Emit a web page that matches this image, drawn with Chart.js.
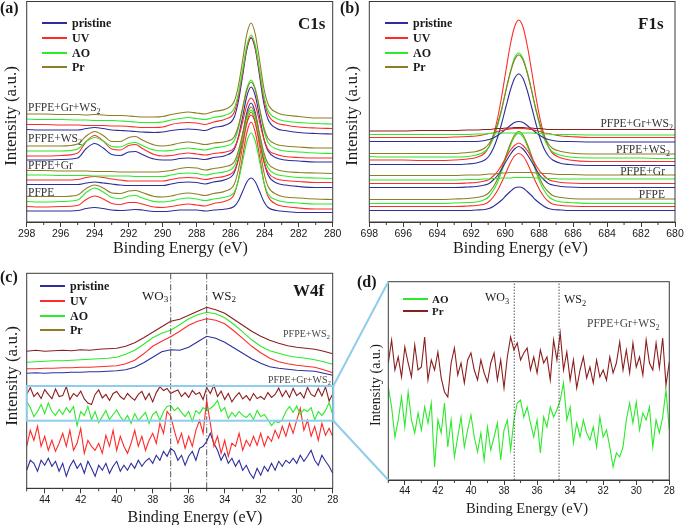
<!DOCTYPE html>
<html>
<head>
<meta charset="utf-8">
<script src="https://cdn.jsdelivr.net/npm/chart.js@4.4.1/dist/chart.umd.min.js"></script>
<style>
  body { margin: 0; background: #fff; }
  #page { position: relative; width: 685px; height: 525px; overflow: hidden;
          font-family: "Liberation Serif", "Times New Roman", serif; color: #1a1a1a; }
  canvas { position: absolute; left: 0; top: 0; }
  .t { position: absolute; white-space: nowrap; line-height: 1; }
  .t sub { font-size: 0.7em; vertical-align: -0.3em; line-height: 0; }
</style>
</head>
<body>
<div id="page">
  <canvas id="c1sChart" width="685" height="525"></canvas>
  <canvas id="f1sChart" width="685" height="525"></canvas>
  <canvas id="w4fChart" width="685" height="525"></canvas>
  <canvas id="zoomChart" width="685" height="525"></canvas>
  <svg width="685" height="525" style="position:absolute;left:0;top:0">
    <rect x="26.7" y="386" width="306.6" height="34.7" fill="none" stroke="#8fcdea" stroke-width="2"/>
    <line x1="333.3" y1="386" x2="388.3" y2="281.7" stroke="#8fcdea" stroke-width="2"/>
    <line x1="333.3" y1="420.7" x2="388.3" y2="480" stroke="#8fcdea" stroke-width="2"/>
  </svg>
</div>
<script>
// ---- C1s (panel a) ----
const c1sEnergy = [298, 297, 296, 295, 294.5, 294, 293.5, 293, 292.5, 292, 291.6, 291.2, 290.5, 290, 289.5, 289, 288.5, 288, 287.5, 287, 286.3, 285.8, 285.55, 285.3, 285.05, 284.8, 284.55, 284.3, 284.05, 283.8, 283.3, 282.8, 282, 281, 280];
const c1sTicks = [298, 296, 294, 292, 290, 288, 286, 284, 282, 280];

const c1sGrWs2Pr = [108, 108, 107.5, 107.5, 107, 107.5, 107, 106.5, 106.5, 106, 105.5, 105, 105, 105.5, 107.5, 109, 110, 109, 108, 110.5, 113, 120.5, 136, 161.5, 188, 199, 187.5, 161.5, 134, 118, 109.5, 107, 105.5, 104, 104];
const c1sGrWs2Ao = [103, 102.5, 102.5, 102, 102, 101.5, 101.5, 101.5, 101, 100.5, 100, 99.5, 99.5, 100, 102, 103.5, 104.5, 103.5, 102.5, 104.5, 107, 113.5, 128.5, 152, 176.5, 187, 176.5, 152, 126.5, 111.5, 103.5, 101, 99.5, 98.5, 98];
const c1sGrWs2Uv = [97.5, 97.5, 97, 97, 96.5, 96.5, 96.5, 96, 96, 95.5, 95, 94.5, 94.5, 95, 97.5, 99, 99.5, 99, 97.5, 100, 103, 109.5, 125, 149, 174, 185, 174, 149, 123, 107.5, 99, 97, 95, 94, 93.5];
const c1sGrWs2Pristine = [92.5, 92, 92, 92, 93.5, 94.5, 93.5, 92, 91.5, 91, 90.5, 90, 89.5, 90, 91.5, 92.5, 93, 92.5, 91.5, 94.5, 97, 104.5, 120.5, 146, 172.5, 184, 172.5, 146, 118.5, 102.5, 93.5, 91.5, 89.5, 88.5, 88];

const c1sWs2Pr = [76, 76, 76, 78, 86, 90.5, 86.5, 80.5, 80.5, 84.5, 85.5, 82, 77, 76, 77, 79, 80, 79, 77.5, 79, 80.5, 85, 96, 114, 132, 140, 132, 113.5, 94.5, 83.5, 77.5, 76, 75, 74, 74];
const c1sWs2Ao = [71, 71, 71, 73, 80.5, 84.5, 81, 75.5, 75, 78.5, 79.5, 76.5, 72, 71, 71.5, 73, 74, 73, 72, 74, 76, 81, 93.5, 113, 133.5, 142, 133, 113, 92, 79.5, 73, 71, 70, 69, 68.5];
const c1sWs2Uv = [66, 66, 66.5, 69, 80.5, 86.5, 81, 73, 72, 76.5, 77.5, 73.5, 67.5, 66, 66.5, 68, 69, 68, 67, 68.5, 70, 74, 84, 100, 117, 124, 117, 100, 83, 72.5, 67.5, 65.5, 64.5, 64, 64];
const c1sWs2Pristine = [62, 62, 62.5, 64, 73.5, 78.5, 74, 67.5, 66.5, 70, 70.5, 67.5, 63, 62, 62, 63.5, 64, 63.5, 62.5, 64.5, 66.5, 72.5, 85, 105, 126, 135, 126, 105, 83.5, 71, 64, 62, 61, 60, 60];

const c1sGrPr = [51.5, 51.5, 51, 51, 51, 50.5, 50.5, 50.5, 50, 50, 50, 50, 50, 50.5, 51.5, 53.5, 54.5, 54, 52, 53.5, 55.5, 60, 71, 88.5, 107, 115, 107, 88.5, 69.5, 58.5, 52.5, 50.5, 49.5, 49, 48.5];
const c1sGrAo = [47, 47, 46.5, 46.5, 46.5, 46, 46, 46, 46, 46, 45.5, 45.5, 45.5, 45.5, 47, 48.5, 49, 48.5, 47, 48.5, 50.5, 55.5, 67, 85, 104, 112, 104, 85, 65.5, 54, 47.5, 46, 44.5, 44, 43.5];
const c1sGrUv = [42, 42, 42, 42.5, 44.5, 45.5, 44.5, 43, 42, 41, 41, 41, 41, 41, 42.5, 44, 44.5, 44, 42.5, 44, 46, 51, 62, 80, 99, 107, 99, 80, 60.5, 49.5, 43, 41.5, 40.5, 39.5, 39.5];
const c1sGrPristine = [37.5, 37.5, 37.5, 37.5, 39, 40, 39, 38, 37, 36.5, 36.5, 36.5, 36.5, 36.5, 38, 39.5, 40, 39.5, 38, 40, 42.5, 49, 63, 86, 109.5, 119, 109, 85.5, 61, 47, 39, 37, 35.5, 34.5, 34.5];

const c1sPfpePr = [25.5, 25.5, 25.5, 27, 33.5, 37, 34, 29, 28.5, 31, 31.5, 29.5, 25.5, 25, 26, 28, 29, 28, 26.5, 28.5, 31, 37.5, 52, 75.5, 99.5, 110, 99.5, 75.5, 50, 35.5, 27.5, 25, 24, 23, 22.5];
const c1sPfpeAo = [20.5, 20, 20.5, 22, 29.5, 34, 30, 24.5, 23.5, 26, 26.5, 24, 20.5, 20, 21, 23, 24, 23, 21.5, 23, 25, 29.5, 41.5, 60.5, 80.5, 89, 80.5, 60.5, 40, 28, 22, 20, 19, 18, 18];
const c1sPfpeUv = [15.5, 15, 15.5, 16.5, 22.5, 26, 23, 18.5, 17.5, 19.5, 19.5, 18, 15, 14.5, 15.5, 17, 18, 17, 16, 18.5, 21, 27.5, 42, 65.5, 89.5, 100, 89.5, 65.5, 40, 25.5, 17.5, 15.5, 14, 13, 13];
const c1sPfpePristine = [11, 11, 11, 11.5, 13.5, 14.5, 13.5, 12, 11.5, 12, 12.5, 12, 10.5, 10.5, 11, 12, 12, 12, 11, 12, 13, 15.5, 21, 30.5, 40, 44, 40, 30.5, 20.5, 14.5, 11.5, 10.5, 9.5, 9.5, 9.5];

// ---- F1s (panel b) ----
const f1sEnergy = [698, 697, 696, 695, 694, 693, 692.2, 691.7, 691.2, 690.95, 690.7, 690.45, 690.2, 689.95, 689.7, 689.45, 689.2, 688.95, 688.7, 688.45, 688.2, 687.95, 687.7, 687.45, 687.2, 686.7, 686.2, 685, 684, 683, 682, 681, 680];
const f1sTicks = [698, 696, 694, 692, 690, 688, 686, 684, 682, 680];

const f1sGrWs2Pr = [91, 91, 91, 91.5, 91.5, 91.5, 92, 92, 92.5, 92.5, 93, 93.5, 93.5, 94, 94, 94.5, 94.5, 94.5, 94, 94, 93.5, 93.5, 93, 92.5, 92.5, 92.5, 92.5, 92.5, 92.5, 92.5, 92.5, 92.5, 92.5];
const f1sGrWs2Ao = [87.5, 87.5, 87.5, 87.5, 87.5, 87.5, 87.5, 88, 88, 88.5, 88.5, 89, 89, 89, 89, 89, 89, 89, 89, 89, 88.5, 88.5, 88, 88, 87.5, 87.5, 87.5, 87, 87, 87, 87, 87, 87];
const f1sGrWs2Uv = [84.5, 84.5, 84.5, 84.5, 84.5, 85, 85.5, 86, 87.5, 88.5, 89, 90.5, 91.5, 92.5, 93, 93.5, 93.5, 93.5, 93, 92.5, 91.5, 90.5, 89, 88.5, 87.5, 86, 85.5, 84.5, 84.5, 84.5, 84.5, 84.5, 84.5];
const f1sGrWs2Pristine = [80.5, 80.5, 80.5, 80.5, 80.5, 80.5, 80.5, 80.5, 81.5, 82.5, 84, 86.5, 89.5, 93, 96.5, 99.5, 100.5, 99.5, 96.5, 93, 89.5, 86.5, 84, 82.5, 81.5, 80.5, 80.5, 80, 80, 80, 80, 80, 80];

const f1sWs2Pr = [68.5, 68.5, 68.5, 68.5, 68.5, 68.5, 69.5, 70.5, 74, 78.5, 86, 98, 113.5, 132, 149, 162, 167, 162, 149, 132, 113.5, 98, 86, 78, 73.5, 70.5, 69, 68, 68, 68, 68, 68, 68];
const f1sWs2Ao = [65.5, 65, 65, 65, 65, 65, 65.5, 67, 70.5, 75, 83.5, 96, 112.5, 132, 150, 164, 169, 163.5, 150, 132, 112.5, 95.5, 83, 75, 70, 66.5, 65, 64, 64, 64, 64, 63.5, 63.5];
const f1sWs2Uv = [62, 62, 62, 61.5, 61.5, 62, 63, 64.5, 69, 75.5, 86.5, 103.5, 126, 152, 177, 195, 202, 195, 176.5, 152, 126, 103.5, 86.5, 75, 68.5, 64, 62, 60.5, 60.5, 60.5, 60.5, 60.5, 60.5];
const f1sWs2Pristine = [57.5, 57.5, 57.5, 57.5, 57.5, 57.5, 58, 59, 62, 66, 73.5, 84.5, 99, 115.5, 131.5, 143.5, 148, 143.5, 131.5, 115.5, 99, 84, 73, 66, 62, 58.5, 57.5, 56.5, 56.5, 56.5, 56.5, 56.5, 56.5];

const f1sGrPr = [46.5, 46.5, 46.5, 46.5, 46.5, 46.5, 47, 47, 47.5, 48, 48, 48.5, 49, 49, 49.5, 49.5, 49.5, 49.5, 49.5, 49.5, 49, 49, 48.5, 48.5, 48, 47.5, 47.5, 47, 47, 47, 47, 47, 47];
const f1sGrAo = [42, 42, 42, 42, 42, 42, 42.5, 42.5, 43, 43, 43.5, 43.5, 44, 44, 44, 44.5, 44.5, 44.5, 44.5, 44.5, 44, 44, 44, 43.5, 43.5, 43, 43, 43, 43, 43, 43, 43, 43];
const f1sGrUv = [38.5, 38.5, 38.5, 38.5, 38.5, 38.5, 39, 39.5, 41, 42.5, 46, 50.5, 57, 64.5, 71.5, 76.5, 79, 76.5, 71.5, 64.5, 57, 50.5, 46, 42.5, 41, 39.5, 39, 38.5, 38.5, 38.5, 38.5, 38.5, 38.5];
const f1sGrPristine = [34.5, 34.5, 34.5, 34.5, 34.5, 34.5, 35, 35.5, 37, 38.5, 42, 46.5, 53, 60.5, 67.5, 73, 75.5, 73, 67.5, 60.5, 53, 46.5, 42, 38.5, 37, 35.5, 35, 34.5, 34.5, 34.5, 34.5, 34.5, 34.5];

const f1sPfpePr = [22.5, 22.5, 22.5, 22.5, 22.5, 23, 23.5, 24.5, 26.5, 29.5, 35, 43, 54, 66.5, 78, 87, 90.5, 87, 78, 66.5, 54, 43, 35, 30, 26.5, 24.5, 23.5, 23, 23, 23, 23, 23, 23];
const f1sPfpeAo = [18.5, 18.5, 18.5, 18.5, 18.5, 19, 19.5, 20, 22.5, 25.5, 31.5, 39.5, 51, 64, 76, 85, 88.5, 85, 76, 64, 51, 39.5, 31.5, 25.5, 22.5, 20, 19.5, 18.5, 18.5, 18.5, 18.5, 18.5, 18.5];
const f1sPfpeUv = [15.5, 15.5, 15.5, 15.5, 15.5, 15.5, 16, 16.5, 18, 20.5, 25, 31.5, 40, 49.5, 59, 66, 68.5, 66, 59, 49.5, 40, 31.5, 25, 20.5, 18, 16.5, 16, 15.5, 15.5, 15.5, 15.5, 15.5, 15.5];
const f1sPfpePristine = [11.5, 11.5, 11.5, 11.5, 11.5, 11.5, 11.5, 12, 12.5, 13.5, 15.5, 18.5, 22, 26.5, 30.5, 34, 35, 34, 30.5, 26.5, 22, 18.5, 15.5, 13.5, 12.5, 12, 11.5, 11.5, 11.5, 11.5, 11.5, 11.5, 11.5];

// ---- W4f (panels c and d) ----
const w4fEnergy = [45, 44.5, 44, 43.5, 43, 42.5, 42, 41.5, 41, 40.5, 40, 39.5, 39, 38.5, 38, 37.5, 37, 36.5, 36, 35.5, 35, 34.5, 34, 33.5, 33, 32.5, 32, 31.5, 31, 30.5, 30, 29.5, 29, 28.5, 28];
const w4fTicks = [44, 42, 40, 38, 36, 34, 32, 30, 28];
const w4fMarkerEnergy = [37.0, 35.0];
const zoomMarkerEnergy = [37.38, 34.67];

const w4fWs2Pr = [137, 138, 137, 137.5, 138, 137.5, 138.5, 138, 139, 139.5, 140, 142, 145.5, 150.5, 156, 161.5, 167, 169, 173, 177, 181, 178.5, 175, 169, 163, 157, 152, 148, 145, 142.5, 141, 140, 139, 137, 134.5];
const w4fWs2Ao = [126, 126.5, 127, 127.5, 127.5, 128, 128.5, 129, 129.5, 130, 131, 134, 138, 144, 150.5, 155, 158, 163.5, 169.5, 173.5, 176, 174.5, 170.5, 164, 156.5, 148.5, 142, 137.5, 135, 132.5, 131, 130, 128.5, 126.5, 124];
const w4fWs2Uv = [119.5, 119.5, 120, 120, 120.5, 120.5, 121, 121, 121.5, 122, 122.5, 124.5, 128, 134.5, 142, 147, 151.5, 157, 163, 167, 169.5, 168, 164.5, 157.5, 150, 142, 135.5, 130, 126.5, 124.5, 123, 122, 121, 118.5, 115.5];
const w4fWs2Pristine = [115, 115.5, 115, 115.5, 115.5, 116, 116, 116.5, 116.5, 117, 117.5, 118.5, 121, 125.5, 131, 136.5, 138.5, 138, 141, 146.5, 152, 150, 146, 140.5, 135, 129.5, 125, 121.5, 120, 119, 118, 117.5, 117, 115, 113];

const noisyEnergy = [45, 44.8, 44.6, 44.4, 44.2, 44, 43.8, 43.6, 43.4, 43.2, 43, 42.8, 42.6, 42.4, 42.2, 42, 41.8, 41.6, 41.4, 41.2, 41, 40.8, 40.6, 40.4, 40.2, 40, 39.8, 39.6, 39.4, 39.2, 39, 38.8, 38.6, 38.4, 38.2, 38, 37.8, 37.6, 37.4, 37.2, 37, 36.8, 36.6, 36.4, 36.2, 36, 35.8, 35.6, 35.4, 35.2, 35, 34.8, 34.6, 34.4, 34.2, 34, 33.8, 33.6, 33.4, 33.2, 33, 32.8, 32.6, 32.4, 32.2, 32, 31.8, 31.6, 31.4, 31.2, 31, 30.8, 30.6, 30.4, 30.2, 30, 29.8, 29.6, 29.4, 29.2, 29, 28.8, 28.6, 28.4, 28.2, 28];
const w4fGrWs2Pr = [117, 140, 110, 123, 103, 133, 117, 103, 135, 110, 113, 143, 100, 120, 110, 128, 102, 88, 83, 117, 132, 105, 117, 97, 120, 127, 110, 100, 120, 107, 98, 117, 127, 100, 120, 92, 123, 143, 130, 137, 120, 127, 132, 110, 123, 107, 130, 117, 123, 100, 140, 120, 147, 110, 128, 100, 120, 92, 110, 123, 102, 113, 97, 120, 103, 110, 100, 123, 107, 117, 138, 110, 130, 107, 137, 113, 123, 105, 140, 117, 110, 137, 112, 142, 95, 118];
const w4fGrWs2Ao = [93, 73, 43, 60, 83, 53, 88, 60, 47, 67, 50, 73, 57, 77, 13, 60, 47, 77, 33, 60, 23, 43, 63, 33, 50, 65, 43, 28, 47, 20, 53, 30, 43, 57, 20, 50, 60, 30, 60, 77, 80, 63, 73, 57, 43, 60, 27, 63, 53, 73, 63, 70, 80, 97, 60, 73, 37, 57, 43, 60, 47, 40, 53, 33, 63, 43, 50, 33, 13, 27, 23, 33, 60, 77, 57, 78, 50, 67, 60, 73, 33, 60, 47, 63, 90, 50];
const w4fGrWs2Uv = [42, 58, 48, 62, 42, 52, 38, 48, 37, 45, 55, 42, 58, 38, 45, 60, 35, 48, 42, 38, 45, 35, 53, 42, 58, 38, 52, 42, 35, 45, 58, 42, 52, 38, 48, 55, 45, 65, 55, 77, 72, 58, 45, 55, 40, 52, 42, 58, 68, 55, 88, 65, 42, 52, 35, 48, 32, 45, 42, 55, 38, 48, 42, 52, 43, 55, 42, 52, 47, 58, 50, 62, 52, 65, 55, 68, 80, 58, 68, 52, 62, 48, 65, 53, 60, 52];
const w4fGrWs2Pristine = [18, 28, 25, 17, 28, 23, 30, 22, 27, 17, 25, 12, 22, 28, 20, 25, 15, 27, 20, 12, 23, 18, 25, 15, 22, 27, 17, 23, 18, 25, 20, 28, 22, 27, 30, 25, 33, 28, 37, 32, 40, 37, 28, 33, 23, 32, 37, 28, 40, 42, 47, 55, 45, 38, 28, 35, 25, 30, 22, 28, 18, 23, 15, 10, 20, 13, 22, 17, 25, 18, 27, 22, 28, 25, 30, 25, 33, 27, 32, 38, 28, 23, 33, 27, 22, 15];

const seriesNames = ['pristine', 'UV', 'AO', 'Pr'];
const BLUE = '#2d2d9c', RED = '#ff2b2b', GREEN = '#2aea2a', OLIVE = '#8f7d24', MAROON = '#8b1e1e';

const PAGE_W = 685, PAGE_H = 525, AXIS_H = 20;
const page = document.getElementById('page');

const framePlugin = {
  id: 'frame',
  afterDraw(chart, args, opts) {
    const { ctx, chartArea: a } = chart;
    const x = chart.scales.x;
    ctx.save();
    ctx.strokeStyle = '#3a3a3a';
    ctx.lineWidth = 1;
    ctx.strokeRect(a.left, a.top, a.right - a.left, a.bottom - a.top);
    for (let v = Math.ceil(x.min); v <= x.max; v += 1) {
      if (opts.major.includes(v)) continue;
      const px = x.getPixelForValue(v);
      ctx.beginPath();
      ctx.moveTo(px, a.bottom);
      ctx.lineTo(px, a.bottom + opts.minorLen);
      ctx.stroke();
    }
    ctx.restore();
  }
};

function line(xs, ys, color, extra) {
  return Object.assign({
    data: xs.map((x, i) => ({ x: x, y: ys[i] })),
    borderColor: color,
    borderWidth: 1.1,
    pointRadius: 0,
    fill: false,
    tension: 0
  }, extra || {});
}

function marker(x, top, dash) {
  return {
    data: [{ x: x, y: 0 }, { x: x, y: top }],
    borderColor: '#555',
    borderWidth: 1,
    borderDash: dash,
    pointRadius: 0,
    fill: false
  };
}

function drawPanel(id, box, xMin, xMax, ticks, yMax, datasets, tickSize, tickPad, extraScales) {
  new Chart(document.getElementById(id), {
    type: 'line',
    data: { datasets: datasets },
    options: {
      responsive: false,
      animation: false,
      events: [],
      layout: {
        padding: { left: box.left, top: box.top, right: PAGE_W - box.right, bottom: PAGE_H - box.bottom - AXIS_H }
      },
      scales: Object.assign({
        x: {
          type: 'linear',
          reverse: true,
          min: xMin,
          max: xMax,
          afterBuildTicks: (s) => { s.ticks = ticks.map((v) => ({ value: v })); },
          afterFit: (s) => { s.height = AXIS_H; },
          grid: { drawOnChartArea: false, drawTicks: true, tickLength: 5, tickColor: '#3a3a3a', tickWidth: 1 },
          border: { display: true, color: '#3a3a3a', width: 1 },
          ticks: {
            color: '#1a1a1a',
            font: { family: 'Liberation Sans, Arial, sans-serif', size: tickSize },
            padding: tickPad,
            maxRotation: 0,
            autoSkip: false,
            callback: (v) => String(v)
          }
        },
        y: { display: false, min: 0, max: yMax }
      }, extraScales || {}),
      plugins: {
        legend: { display: false },
        tooltip: { enabled: false },
        frame: { major: ticks, minorLen: 3 }
      }
    },
    plugins: [framePlugin]
  });
}

const smooth = { cubicInterpolationMode: 'monotone' };

// panel (a)
drawPanel('c1sChart', { left: 26.7, top: 1.5, right: 332.7, bottom: 222 }, 280, 298, c1sTicks, 220.5, [
  line(c1sEnergy, c1sGrWs2Pr, OLIVE, smooth), line(c1sEnergy, c1sGrWs2Ao, GREEN, smooth),
  line(c1sEnergy, c1sGrWs2Uv, RED, smooth), line(c1sEnergy, c1sGrWs2Pristine, BLUE, smooth),
  line(c1sEnergy, c1sWs2Pr, OLIVE, smooth), line(c1sEnergy, c1sWs2Ao, GREEN, smooth),
  line(c1sEnergy, c1sWs2Uv, RED, smooth), line(c1sEnergy, c1sWs2Pristine, BLUE, smooth),
  line(c1sEnergy, c1sGrPr, OLIVE, smooth), line(c1sEnergy, c1sGrAo, GREEN, smooth),
  line(c1sEnergy, c1sGrUv, RED, smooth), line(c1sEnergy, c1sGrPristine, BLUE, smooth),
  line(c1sEnergy, c1sPfpePr, OLIVE, smooth), line(c1sEnergy, c1sPfpeAo, GREEN, smooth),
  line(c1sEnergy, c1sPfpeUv, RED, smooth), line(c1sEnergy, c1sPfpePristine, BLUE, smooth)
], 10.5, 1);

// panel (b)
drawPanel('f1sChart', { left: 369.3, top: 1.5, right: 675, bottom: 222 }, 680, 698, f1sTicks, 220.5, [
  line(f1sEnergy, f1sGrWs2Pr, MAROON, smooth), line(f1sEnergy, f1sGrWs2Ao, GREEN, smooth),
  line(f1sEnergy, f1sGrWs2Uv, RED, smooth), line(f1sEnergy, f1sGrWs2Pristine, BLUE, smooth),
  line(f1sEnergy, f1sWs2Pr, OLIVE, smooth), line(f1sEnergy, f1sWs2Ao, GREEN, smooth),
  line(f1sEnergy, f1sWs2Uv, RED, smooth), line(f1sEnergy, f1sWs2Pristine, BLUE, smooth),
  line(f1sEnergy, f1sGrPr, OLIVE, smooth), line(f1sEnergy, f1sGrAo, GREEN, smooth),
  line(f1sEnergy, f1sGrUv, RED, smooth), line(f1sEnergy, f1sGrPristine, BLUE, smooth),
  line(f1sEnergy, f1sPfpePr, OLIVE, smooth), line(f1sEnergy, f1sPfpeAo, GREEN, smooth),
  line(f1sEnergy, f1sPfpeUv, RED, smooth), line(f1sEnergy, f1sPfpePristine, BLUE, smooth)
], 10.5, 1);

// panel (c): the lower Pr/AO traces sit on a compressed axis (same data as panel d)
drawPanel('w4fChart', { left: 26.7, top: 273.3, right: 332.7, bottom: 488.3 }, 28, 45, w4fTicks, 215, [
  marker(w4fMarkerEnergy[0], 215, [6, 2, 1, 2]), marker(w4fMarkerEnergy[1], 215, [6, 2, 1, 2]),
  line(w4fEnergy, w4fWs2Pr, MAROON), line(w4fEnergy, w4fWs2Ao, GREEN),
  line(w4fEnergy, w4fWs2Uv, RED), line(w4fEnergy, w4fWs2Pristine, BLUE),
  line(noisyEnergy, w4fGrWs2Pr, MAROON, { yAxisID: 'y2' }), line(noisyEnergy, w4fGrWs2Ao, GREEN, { yAxisID: 'y2' }),
  line(noisyEnergy, w4fGrWs2Uv, RED), line(noisyEnergy, w4fGrWs2Pristine, BLUE)
], 10, 1, { y2: { display: false, min: -196, max: 520.7 } });

// panel (d)
drawPanel('zoomChart', { left: 388.3, top: 281.7, right: 669.3, bottom: 480 }, 28, 45, w4fTicks, 198.3, [
  marker(zoomMarkerEnergy[0], 198.3, [1.5, 1.5]), marker(zoomMarkerEnergy[1], 198.3, [1.5, 1.5]),
  line(noisyEnergy, w4fGrWs2Pr, MAROON), line(noisyEnergy, w4fGrWs2Ao, GREEN)
], 10, 0);

// ---- text ----
function addText(html, x, y, o) {
  const el = document.createElement('div');
  el.className = 't';
  el.innerHTML = html;
  el.style.left = x + 'px';
  el.style.top = y + 'px';
  el.style.fontSize = o.size + 'px';
  if (o.bold) el.style.fontWeight = 'bold';
  if (o.color) el.style.color = o.color;
  const tx = o.align === 'center' ? '-50%' : o.align === 'right' ? '-100%' : '0';
  el.style.transform = 'translate(' + tx + ', -50%)' + (o.rotate ? ' rotate(-90deg)' : '');
  page.appendChild(el);
}

function addLegend(x1, x2, textX, rows, names, colors, size) {
  rows.forEach((cy, i) => {
    const ln = document.createElement('div');
    ln.style.cssText = 'position:absolute;left:' + x1 + 'px;top:' + Math.round(cy - 1) + 'px;width:' + (x2 - x1) + 'px;height:2px;background:' + colors[i];
    page.appendChild(ln);
    addText(names[i], textX, cy, { size: size, bold: true });
  });
}

addText('(a)', 0, 7.5, { size: 16, bold: true });
addText('(b)', 340, 7.5, { size: 16, bold: true });
addText('(c)', 0, 277, { size: 16, bold: true });
addText('(d)', 357, 282, { size: 16, bold: true });

addText('C1s', 298, 23, { size: 17, bold: true });
addText('F1s', 638, 23, { size: 17, bold: true });
addText('W4f', 293, 290, { size: 17, bold: true });

addText('Intensity (a.u.)', 10, 116, { size: 17, align: 'center', rotate: true });
addText('Intensity (a.u.)', 351, 116, { size: 17, align: 'center', rotate: true });
addText('Intensity (a.u.)', 11, 376, { size: 17, align: 'center', rotate: true });
addText('Intensity (a.u.)', 376, 385, { size: 14, align: 'center', rotate: true });

addText('Binding Energy (eV)', 180.5, 248, { size: 16, align: 'center' });
addText('Binding Energy (eV)', 520.5, 248, { size: 16, align: 'center' });
addText('Binding Energy (eV)', 195, 516.5, { size: 16, align: 'center' });
addText('Binding Energy (eV)', 527, 508, { size: 14.5, align: 'center' });

const labelGrey = '#333';
addText('PFPE+Gr+WS<sub>2</sub>', 28, 107.5, { size: 11.5, color: labelGrey });
addText('PFPE+WS<sub>2</sub>', 28, 139, { size: 11.5, color: labelGrey });
addText('PFPE+Gr', 28, 166, { size: 11.5, color: labelGrey });
addText('PFPE', 28, 192.5, { size: 11.5, color: labelGrey });

addText('PFPE+Gr+WS<sub>2</sub>', 673, 123.5, { size: 11.5, align: 'right', color: labelGrey });
addText('PFPE+WS<sub>2</sub>', 670, 150, { size: 11.5, align: 'right', color: labelGrey });
addText('PFPE+Gr', 665, 172, { size: 11.5, align: 'right', color: labelGrey });
addText('PFPE', 665, 195, { size: 11.5, align: 'right', color: labelGrey });

addText('WO<sub>3</sub>', 142, 295, { size: 13 });
addText('WS<sub>2</sub>', 212, 295, { size: 13 });
addText('PFPE+WS<sub>2</sub>', 330, 334, { size: 10, align: 'right', color: '#444' });
addText('PFPE+Gr+WS<sub>2</sub>', 331, 380, { size: 10, align: 'right', color: '#444' });

addText('WO<sub>3</sub>', 485, 297, { size: 12 });
addText('WS<sub>2</sub>', 564, 299, { size: 12 });
addText('PFPE+Gr+WS<sub>2</sub>', 587, 324, { size: 11.5, color: '#444' });

addLegend(42, 67, 72, [23.3, 38.3, 52.7, 67.3], seriesNames, [BLUE, RED, GREEN, OLIVE], 12);
addLegend(385, 408, 413, [23.3, 38.3, 52.7, 67.3], seriesNames, [BLUE, RED, GREEN, OLIVE], 12);
addLegend(40, 65, 70, [286, 301, 315.7, 330], seriesNames, [BLUE, RED, GREEN, OLIVE], 12);
addLegend(403, 428, 432, [299.3, 310.7], ['AO', 'Pr'], [GREEN, MAROON], 11);
</script>
</body>
</html>
